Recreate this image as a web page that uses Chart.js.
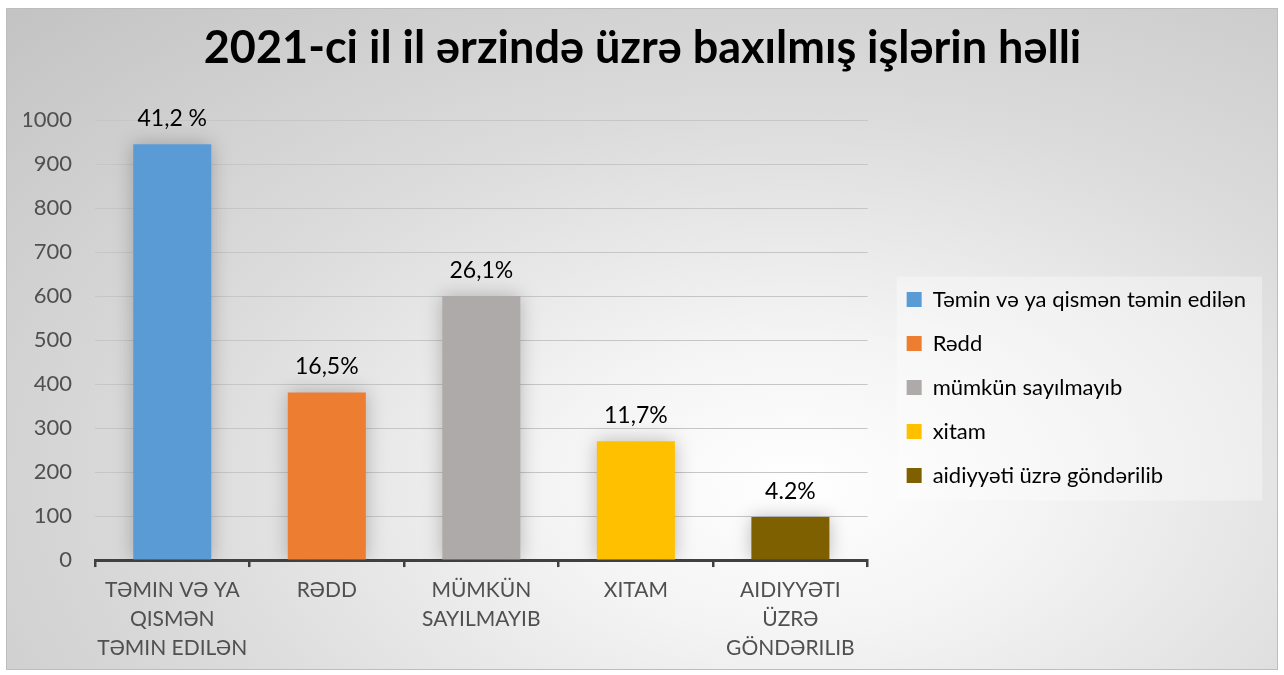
<!DOCTYPE html>
<html>
<head>
<meta charset="utf-8">
<script src="https://cdn.jsdelivr.net/npm/chart.js@4"></script>
<style>
  html, body { margin: 0; padding: 0; background: #fff; }
  .frame {
    position: absolute; left: 6px; top: 8px;
    width: 1270px; height: 660px;
    border: 1px solid #bdbdbd;
    background: radial-gradient(farthest-corner at 62% 72%, #ffffff 0%, #f4f4f4 22%, #dcdcdc 55%, #c3c3c3 100%);
  }
  canvas { display: block; }
</style>
</head>
<body>
<div class="frame"><canvas id="qerar" width="1270" height="660"></canvas></div>
<script>
// kateqoriyalar (x oxu), legend adları, dəyərlər
const categories = [
    ['TƏMIN VƏ YA', 'QISMƏN', 'TƏMIN EDILƏN'],
    ['RƏDD'],
    ['MÜMKÜN', 'SAYILMAYIB'],
    ['XITAM'],
    ['AIDIYYƏTI', 'ÜZRƏ', 'GÖNDƏRILIB']
];
const legendNames = ['Təmin və ya qismən təmin edilən', 'Rədd', 'mümkün sayılmayıb', 'xitam', 'aidiyyəti üzrə göndərilib'];
const values = [945, 381, 600, 270, 98];
const percentLabels = ['41,2 %', '16,5%', '26,1%', '11,7%', '4.2%'];
const colors = ['#5b9bd5', '#ed7d31', '#aeaaaa', '#ffc000', '#7f6000'];
const yMax = 1000;
const yStep = 100;

const FONT = 'Lato, Calibri, "Noto Sans", sans-serif';

// legendi sağa/aşağı, başlığı isə bütün enə görə ortaya sürüşdür
const boxShift = {
    id: 'boxShift',
    afterLayout(chart) {
        const l = chart.legend;
        if (l) {
            const dx = 17, dy = 47;
            l.left += dx; l.right += dx;
            l.top += dy; l.bottom += dy;
        }
        const t = chart.titleBlock;
        if (t) {
            const shift = 11;
            t.left += shift; t.right += shift;
        }
    }
};

// legend arxasında boz qutu (yalnız elementlərin ətrafında)
const legendBox = {
    id: 'legendBox',
    beforeDraw(chart) {
        const l = chart.legend;
        if (!l || !l.legendHitBoxes || !l.legendHitBoxes.length) return;
        const hb = l.legendHitBoxes;
        const left = Math.min(...hb.map(b => b.left)) - 10;
        const right = Math.max(...hb.map(b => b.left + b.width)) + 16;
        const top = hb[0].top - 12;
        const bottom = hb[hb.length - 1].top + hb[hb.length - 1].height + 14;
        const ctx = chart.ctx;
        ctx.save();
        ctx.fillStyle = 'rgba(255,255,255,0.34)';
        ctx.fillRect(left, top, right - left, bottom - top);
        ctx.restore();
    }
};

// sütunların ətrafında yumşaq kölgə
const barShadow = {
    id: 'barShadow',
    beforeDatasetDraw(chart) {
        const ctx = chart.ctx;
        ctx.save();
        ctx.shadowColor = 'rgba(0,0,0,0.25)';
        ctx.shadowBlur = 18;
    },
    afterDatasetDraw(chart) {
        chart.ctx.restore();
    }
};

// faiz yazıları sütunların üstündə
const percentText = {
    id: 'percentText',
    afterDatasetsDraw(chart) {
        const ctx = chart.ctx;
        const meta = chart.getDatasetMeta(0);
        ctx.save();
        ctx.font = '23px ' + FONT;
        ctx.fillStyle = '#000';
        ctx.textAlign = 'center';
        ctx.textBaseline = 'bottom';
        meta.data.forEach((bar, i) => {
            ctx.fillText(percentLabels[i], bar.x, bar.y - 14);
        });
        ctx.restore();
    }
};

new Chart(document.getElementById('qerar'), {
    type: 'bar',
    data: {
        labels: categories,
        datasets: [{
            data: values,
            backgroundColor: colors,
            borderWidth: 0,
            categoryPercentage: 1,
            barPercentage: 0.505
        }]
    },
    options: {
        responsive: false,
        animation: false,
        layout: { padding: { left: 17, right: 38, top: 0, bottom: -3 } },
        plugins: {
            tooltip: { enabled: false },
            title: {
                display: true,
                text: '2021-ci il il ərzində üzrə baxılmış işlərin həlli',
                color: '#000',
                font: { family: FONT, size: 45, weight: 'bold' },
                padding: { top: 12, bottom: 45 }
            },
            legend: {
                position: 'right',
                align: 'center',
                maxWidth: 420,
                labels: {
                    color: '#404040',
                    font: { family: FONT, size: 22 },
                    boxWidth: 15,
                    boxHeight: 15,
                    padding: 22,
                    generateLabels: () => legendNames.map((name, i) => ({
                        text: name,
                        fillStyle: colors[i],
                        strokeStyle: colors[i],
                        lineWidth: 0,
                        index: i
                    }))
                }
            }
        },
        scales: {
            x: {
                afterFit: s => { s.paddingLeft = 0; s.paddingRight = 0; },
                grid: {
                    offset: true,
                    drawOnChartArea: false,
                    drawTicks: true,
                    tickLength: 7,
                    color: '#404040',
                    lineWidth: 2.5
                },
                border: { color: '#404040', width: 3 },
                ticks: {
                    color: '#505050',
                    font: { family: FONT, size: 21, lineHeight: 1.38 },
                    padding: 9,
                    autoSkip: false,
                    maxRotation: 0
                }
            },
            y: {
                min: 0,
                max: yMax,
                afterFit: s => { s.width = 71; },
                grid: { color: '#c6c6c6', drawTicks: false },
                border: { display: false },
                ticks: {
                    stepSize: yStep,
                    color: '#505050',
                    font: { family: FONT, size: 22 },
                    padding: 23,
                    callback: v => String(v)
                }
            }
        }
    },
    plugins: [boxShift, legendBox, barShadow, percentText]
});
</script>
</body>
</html>
